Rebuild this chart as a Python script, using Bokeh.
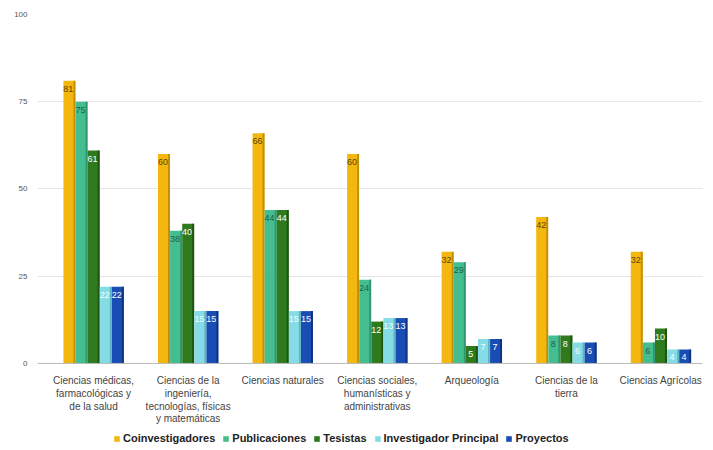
from bokeh.plotting import figure
from bokeh.models import ColumnDataSource, Range1d, FixedTicker, Legend, LegendItem, Span
from bokeh.embed import file_html
from bokeh.resources import INLINE
from bokeh.core.properties import value

categories = [
    "Ciencias médicas,\nfarmacológicas y\nde la salud",
    "Ciencias de la\ningeniería,\ntecnologías, físicas\ny matemáticas",
    "Ciencias naturales",
    "Ciencias sociales,\nhumanísticas y\nadministrativas",
    "Arqueología",
    "Ciencias de la\ntierra",
    "Ciencias Agrícolas",
]
series_names = ["Coinvestigadores", "Publicaciones", "Tesistas", "Investigador Principal", "Proyectos"]
coinvestigadores = [81, 60, 66, 60, 32, 42, 32]
publicaciones = [75, 38, 44, 24, 29, 8, 6]
tesistas = [61, 40, 44, 12, 5, 8, 10]
investigador_principal = [22, 15, 15, 13, 7, 6, 4]
proyectos = [22, 15, 15, 13, 7, 6, 4]
y_ticks = [0, 25, 50, 75, 100]

series_values = [coinvestigadores, publicaciones, tesistas, investigador_principal, proyectos]
colors = ["#F4B70F", "#45BE8F", "#2E7A1C", "#86DCE6", "#1A4DB3"]
side_colors = ["#C28E05", "#2E9670", "#1D5411", "#5FB7C2", "#0F3380"]
label_colors = ["#5A4600", "#1E5E4A", "#FFFFFF", "#F4FFFF", "#FFFFFF"]

p = figure(frame_width=665, frame_height=432, output_backend="svg", toolbar_location=None,
           x_range=Range1d(-0.593, 6.44), y_range=Range1d(-23.8, 100),
           min_border_left=37, min_border_right=2, min_border_top=14, min_border_bottom=0)
p.outline_line_color = None
p.background_fill_color = "white"
p.border_fill_color = "white"

bar_w = 0.128
offsets = [(-2 + k) * bar_w for k in range(5)]
legend_items = []
for k, (name, vals) in enumerate(zip(series_names, series_values)):
    xs = [i + offsets[k] for i in range(len(vals))]
    src = ColumnDataSource(dict(x=xs, top=vals, lbl=[str(v) for v in vals]))
    r = p.vbar(x="x", top="top", bottom=0, width=bar_w * 0.98, source=src,
               fill_color=colors[k], line_color=None)
    side = ColumnDataSource(dict(x=[x + bar_w * 0.42 for x in xs], top=vals))
    p.vbar(x="x", top="top", bottom=0, width=bar_w * 0.16, source=side,
           fill_color=side_colors[k], line_color=None)
    p.text(x="x", y="top", text="lbl", source=src, y_offset=8, x_offset=-1,
           text_align="center", text_baseline="middle", text_font_size="9px",
           text_font=value("Liberation Sans"), text_color=label_colors[k])
    legend_items.append(LegendItem(label=name, renderers=[r]))

# category labels below the baseline
cat_src = ColumnDataSource(dict(x=list(range(len(categories))), y=[0] * len(categories), t=categories))
p.text(x="x", y="y", text="t", source=cat_src, y_offset=12, text_align="center",
       text_baseline="top", text_font_size="10px", text_font=value("Liberation Sans"),
       text_color="#444444", text_line_height=1.15)

p.add_layout(Span(location=0, dimension="width", line_color="#BBBBBB", line_width=1))

p.xgrid.grid_line_color = None
p.ygrid.grid_line_color = "#E6E6E6"
p.ygrid.grid_line_width = 1
p.ygrid.ticker = FixedTicker(ticks=y_ticks)

p.yaxis.ticker = FixedTicker(ticks=y_ticks)
p.yaxis.axis_line_color = None
p.yaxis.major_tick_line_color = None
p.yaxis.major_tick_out = 0
p.yaxis.minor_tick_line_color = None
p.yaxis.major_label_text_font_size = "8px"
p.yaxis.major_label_text_color = "#555555"
p.yaxis.major_label_text_font = "Liberation Sans"
p.yaxis.major_label_standoff = 10

p.xaxis.visible = False

legend = Legend(items=legend_items, orientation="horizontal", location=(76, 2),
                border_line_color=None, background_fill_alpha=0,
                label_text_font_size="11px", label_text_font_style="bold",
                label_text_font="Liberation Sans", label_text_color="#222222",
                glyph_width=7, glyph_height=7, spacing=7, label_standoff=3,
                label_height=12, padding=3, margin=0)
p.add_layout(legend, "center")

open("out.html", "w").write(file_html(p, INLINE))
